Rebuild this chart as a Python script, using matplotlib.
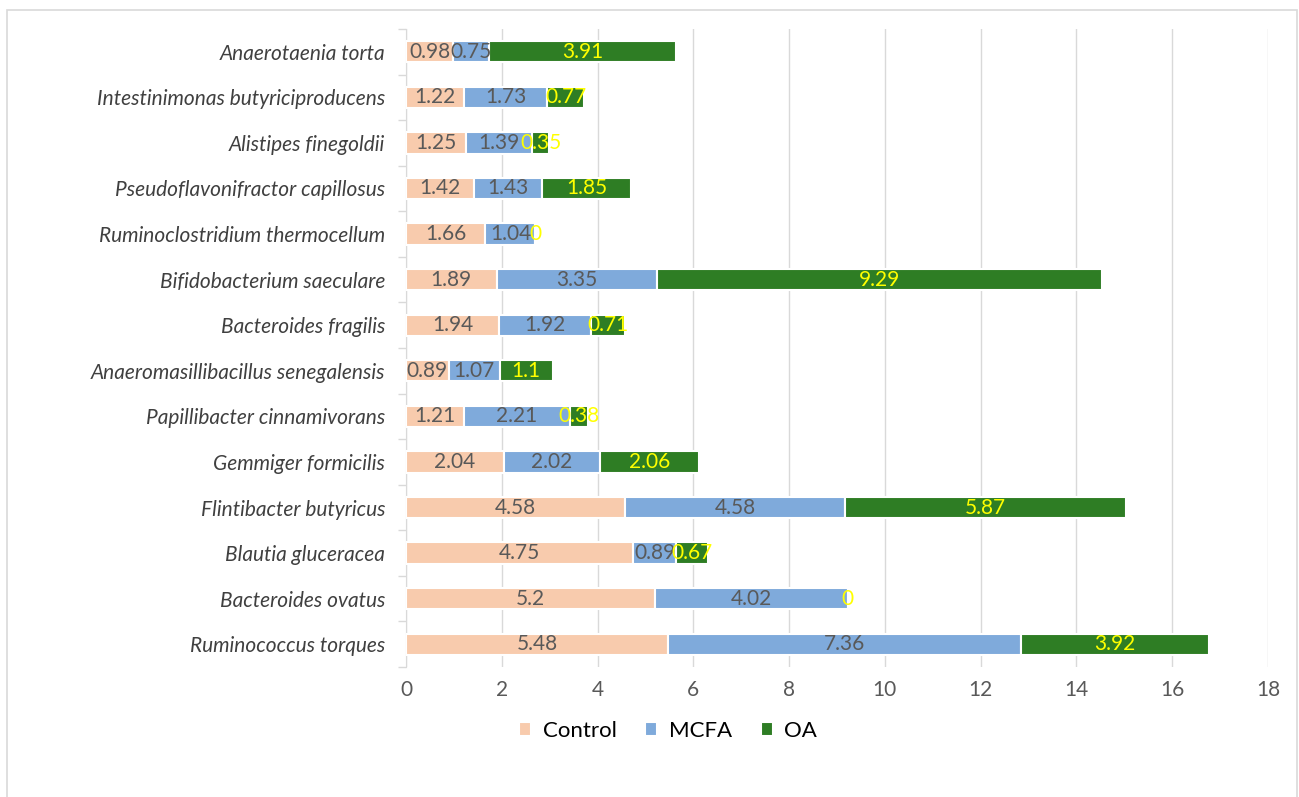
import matplotlib.pyplot as plt
from matplotlib.patches import Rectangle
import numpy as np

species = [
    'Anaerotaenia torta',
    'Intestinimonas butyriciproducens',
    'Alistipes finegoldii',
    'Pseudoflavonifractor capillosus',
    'Ruminoclostridium thermocellum',
    'Bifidobacterium saeculare',
    'Bacteroides fragilis',
    'Anaeromasillibacillus senegalensis',
    'Papillibacter cinnamivorans',
    'Gemmiger formicilis',
    'Flintibacter butyricus',
    'Blautia gluceracea',
    'Bacteroides ovatus',
    'Ruminococcus torques',
]
control = [0.98, 1.22, 1.25, 1.42, 1.66, 1.89, 1.94, 0.89, 1.21, 2.04, 4.58, 4.75, 5.2, 5.48]
mcfa = [0.75, 1.73, 1.39, 1.43, 1.04, 3.35, 1.92, 1.07, 2.21, 2.02, 4.58, 0.89, 4.02, 7.36]
oa = [3.91, 0.77, 0.35, 1.85, 0, 9.29, 0.71, 1.1, 0.38, 2.06, 5.87, 0.67, 0, 3.92]

series = [('Control', control, '#f8cbad', '#595959'),
          ('MCFA', mcfa, '#7faadb', '#595959'),
          ('OA', oa, '#2e7d24', '#ffff00')]

plt.rcParams['font.family'] = ['Lato', 'DejaVu Sans']

fig = plt.figure(figsize=(12.99, 7.97), dpi=100)
fig.patches.append(Rectangle((7 / 1299, -0.01), 1290 / 1299, 1 - 10 / 797 + 0.01,
                             transform=fig.transFigure, fill=False,
                             edgecolor='#d9d9d9', linewidth=1.2))
ax = fig.add_axes([406 / 1299, 1 - 667 / 797, (1268 - 406) / 1299, (667 - 29) / 797])

y = np.arange(len(species))
left = np.zeros(len(species))
for name, vals, color, tcolor in series:
    vals = np.array(vals)
    bars = ax.barh(y, vals, left=left, height=0.47, color=color,
                   edgecolor='white', linewidth=1.5, label=name, zorder=3)
    ax.bar_label(bars, labels=[f'{v:g}' for v in vals], label_type='center',
                 color=tcolor, fontsize=15, zorder=4)
    left += vals

ax.set_xlim(0, 18)
ax.set_ylim(len(species) - 0.5, -0.5)
ax.set_xticks(range(0, 19, 2))
ax.set_yticks(y)
ax.set_yticklabels(species, fontstyle='italic', fontsize=15, color='#404040')
ax.set_yticks(np.arange(-0.5, len(species), 1), minor=True)
ax.tick_params(axis='y', which='major', length=0, pad=15)
ax.tick_params(axis='y', which='minor', length=6, color='#d9d9d9', width=1)
ax.tick_params(axis='x', length=0, labelsize=15, labelcolor='#595959', pad=9)
ax.grid(axis='x', color='#d9d9d9', linewidth=1, zorder=0)
for s in ['top', 'right', 'bottom']:
    ax.spines[s].set_visible(False)
ax.spines['left'].set_color('#d9d9d9')

fig.legend(*ax.get_legend_handles_labels(), loc='center', bbox_to_anchor=(668 / 1299, 1 - 731 / 797),
           ncol=3, frameon=False, fontsize=16, handlelength=0.55, handleheight=0.55,
           columnspacing=1.3, handletextpad=0.5)

fig.savefig('out.png', dpi=100)
